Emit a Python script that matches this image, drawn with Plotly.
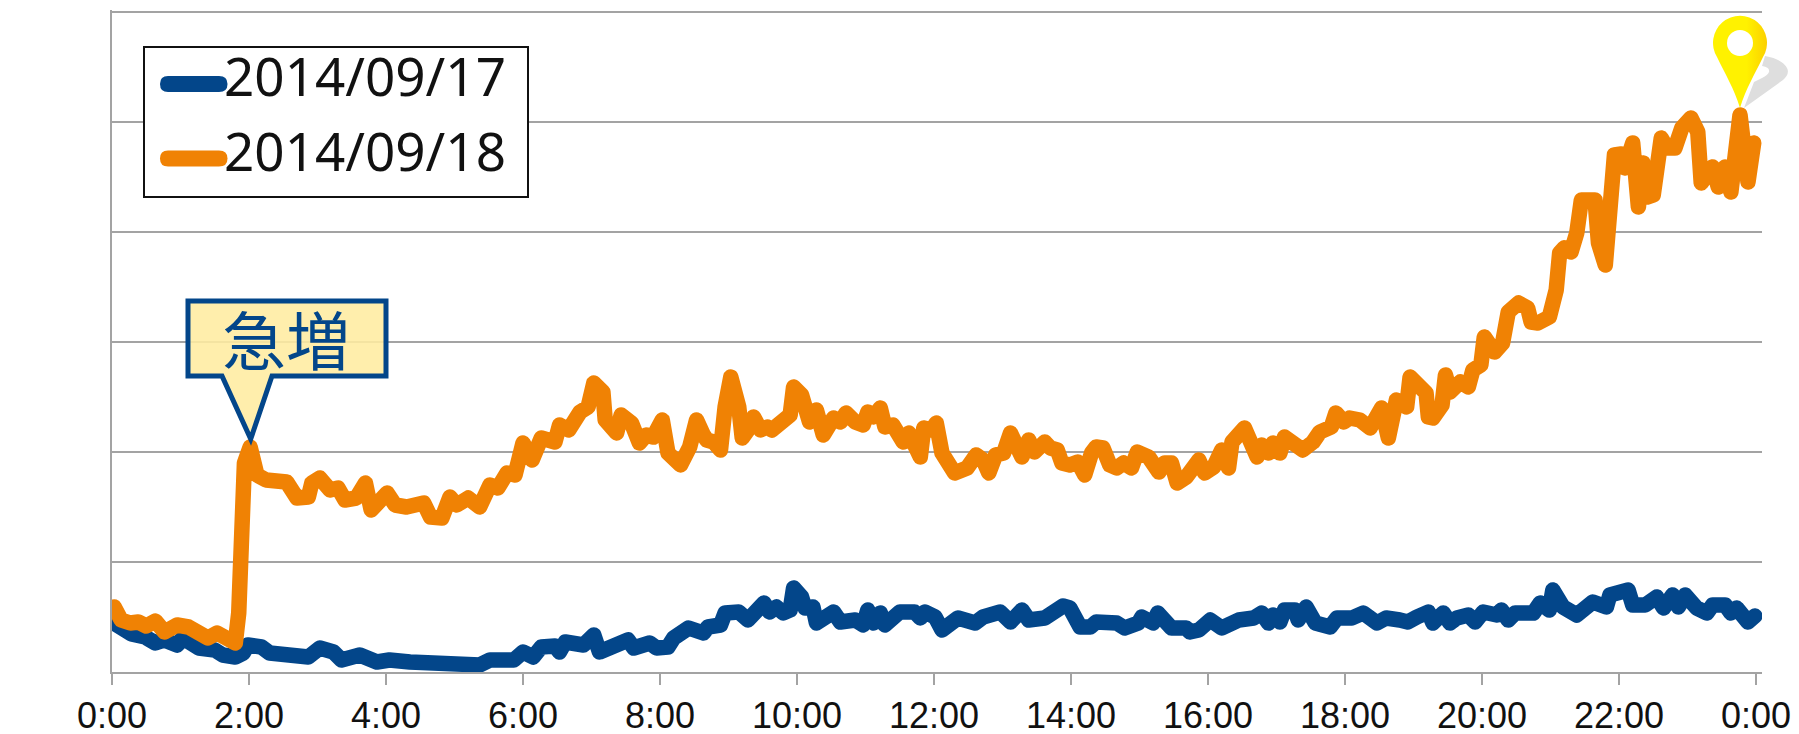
import base64
import plotly.graph_objects as go

# Query volume sampled through the day; time in minutes after midnight.
time_0917 = [0,10,17,29,38,46,57,62,76,90,97,108,115,119,131,138,153,166,172,182,194,201,211,217,232,243,261,273,281,299,311,317,322,331,352,360,369,376,388,392,397,
             413,422,427,436,442,452,457,471,477,487,492,505,518,522,533,537,549,557,571,576,582,588,594,597,604,607,614,617,632,638,651,658,662,667,673,677,690,703,708,712,721,727,741,749,756,763,778,787,797,803,817,
             833,839,848,857,862,880,887,899,902,912,916,928,941,944,952,962,972,987,1000,1007,1013,1017,1023,1027,1036,1039,1046,1054,1067,1073,1086,1096,1108,1116,
             1128,1135,1143,1153,1157,1166,1172,1178,1188,1194,1201,1213,1217,1223,1229,1245,1251,1259,1262,1271,1283,1297,1309,1312,1328,1332,1343,1353,1359,1367,1372,1378,1388,1397,1402,1413,1418,1423,1433,1439]
count_0917 = [50,40,38,35,29,32,27,34,24,22,17,15,19,27,25,19,17,17,15,24,20,12,14,17,10,12,10,10,7,9,9,10,7,12,12,20,15,25,26,20,30,
              27,37,20,24,29,32,24,29,24,25,34,44,39,45,47,59,60,52,69,60,65,59,62,84,75,64,65,49,60,50,52,47,62,49,59,47,60,60,54,60,55,42,54,49,49,55,60,50,62,52,54,
              66,64,45,45,50,49,44,49,55,49,59,44,44,40,42,52,44,52,54,59,49,57,50,62,62,52,65,49,45,54,54,59,49,54,
              52,50,55,60,49,59,49,54,57,50,60,57,62,52,59,59,69,62,82,65,57,70,65,77,82,67,67,75,64,77,65,77,64,59,67,67,59,64,50,56]

time_0918 = [2,8,16,23,30,38,46,57,67,74,84,92,100,108,111,114,116,121,127,135,144,153,162,172,175,182,191,198,204,214,222,227,241,248,258,273,279,289,296,302,312,322,331,338,346,353,360,368,376,388,392,400,
             410,417,422,430,432,438,442,446,455,462,468,474,482,487,498,506,512,518,521,527,533,537,542,549,552,557,562,568,574,578,585,594,597,604,611,617,623,632,638,643,651,658,662,667,673,677,684,689,693,698,702,708,711,718,722,727,738,749,757,763,768,774,781,787,797,803,808,817,822,
             828,832,839,846,852,858,862,868,874,880,886,893,898,908,917,922,928,933,941,952,957,965,972,978,981,992,1003,1007,1013,1017,1023,1027,1036,1043,1052,1058,1068,1072,1079,1084,1093,1102,1112,1118,1125,1134,
             1137,1151,1153,1157,1165,1168,1172,1181,1188,1192,1199,1202,1211,1218,1223,1232,1240,1243,1249,1259,1265,1268,1272,1278,1283,1287,1299,1302,1308,1312,1316,1322,1325,1332,1337,1341,1345,1350,1357,1362,1369,1375,1383,1389,1392,1402,1407,1413,1418,1426,1433,1438]
count_0918 = [65,52,49,50,46,51,40,47,45,39,34,39,36,29,59,125,209,225,197,192,189,190,174,175,189,194,182,184,172,174,189,162,179,167,165,169,155,154,175,167,174,165,187,184,199,197,229,212,234,230,247,242,
              260,265,289,280,252,247,239,257,249,229,237,235,252,219,207,225,252,237,232,230,222,265,295,265,234,242,255,242,245,242,247,257,285,277,250,262,237,254,250,259,250,247,260,255,264,245,247,232,230,239,227,215,244,242,249,219,199,204,217,212,199,217,219,239,215,232,220,230,224,
              222,209,207,210,197,219,225,224,207,204,209,204,220,215,200,209,209,189,195,212,199,205,222,204,230,244,215,227,219,229,219,235,230,222,230,240,245,259,250,254,252,244,264,234,272,265,
              295,279,255,254,267,297,280,290,285,302,307,335,320,329,360,369,364,350,349,355,382,419,424,420,439,472,472,429,407,482,517,518,504,529,465,509,475,477,534,524,524,544,554,540,489,505,485,505,480,557,490,529]

tick_minutes = list(range(0, 1441, 120))
tick_labels = ["0:00","2:00","4:00","6:00","8:00","10:00","12:00","14:00","16:00","18:00","20:00","22:00","0:00"]
series_names = ["2014/09/17", "2014/09/18"]
axis_title = "クエリ数"
callout_text = "急増"

BLUE = "#03468A"
ORANGE = "#F08204"
GRID = "#A3A3A3"
W, H = 1799, 734
# Plot rectangle in page pixels; the value axis runs slightly past its top gridline.
LEFT, RIGHT, TOP, BOTTOM = 112, 1762, 10, 672


def px(x):
    return (x - LEFT) / (RIGHT - LEFT)


def py(y):
    return (BOTTOM - y) / (BOTTOM - TOP)


def path(*items):
    # Builds an SVG path in paper coordinates from (command, x, y, ...) tuples.
    out = []
    for item in items:
        cmd, coords = item[0], item[1:]
        pairs = [f"{px(coords[i]):.5f},{py(coords[i + 1]):.5f}" for i in range(0, len(coords), 2)]
        out.append(cmd + " ".join(pairs))
    return " ".join(out) + " Z"


fig = go.Figure()
fig.add_trace(go.Scatter(x=time_0917, y=count_0917, mode="lines", name=series_names[0],
                         line=dict(color=BLUE, width=15.5), cliponaxis=False, showlegend=False))
fig.add_trace(go.Scatter(x=time_0918, y=count_0918, mode="lines", name=series_names[1],
                         line=dict(color=ORANGE, width=15.5), cliponaxis=False, showlegend=False))

shapes = []
annotations = []


def paper_shape(**kw):
    shapes.append(dict(type="path", xref="paper", yref="paper", layer="above", **kw))


# Legend box with rounded swatches
shapes.append(dict(type="rect", xref="paper", yref="paper", layer="above",
                   x0=px(144), x1=px(528), y0=py(47), y1=py(197),
                   fillcolor="white", line=dict(color="#111111", width=2)))
for name, color, y_swatch, y_text in [(series_names[0], BLUE, 84, 75), (series_names[1], ORANGE, 158.5, 150)]:
    r = 8
    paper_shape(path=path(("M", 168, y_swatch - r), ("L", 219, y_swatch - r),
                          ("Q", 227.5, y_swatch - r, 227.5, y_swatch), ("Q", 227.5, y_swatch + r, 219, y_swatch + r),
                          ("L", 168, y_swatch + r), ("Q", 160, y_swatch + r, 160, y_swatch),
                          ("Q", 160, y_swatch - r, 168, y_swatch - r)),
                fillcolor=color, line=dict(width=0))
    annotations.append(dict(text=name, xref="paper", yref="paper", x=px(222), y=py(y_text), xanchor="left",
                            yanchor="middle", showarrow=False, font=dict(family="Noto Sans", size=53, color="#111111")))

# Callout pointing at the 2:00 jump
paper_shape(path=path(("M", 188, 301), ("L", 386, 301), ("L", 386, 376), ("L", 272, 376), ("L", 250.7, 439),
                      ("L", 222, 376), ("L", 188, 376)),
            fillcolor="rgba(255,236,160,0.88)", line=dict(color=BLUE, width=5))
annotations.append(dict(text=callout_text, xref="paper", yref="paper", x=px(286), y=py(337), xanchor="center",
                        yanchor="middle", showarrow=False,
                        font=dict(family="Noto Sans CJK JP", size=64, color=BLUE)))

# Vertical axis title; the script below switches it to vertical writing
annotations.append(dict(text=axis_title, xref="paper", yref="paper", x=px(36), y=py(340), xanchor="center",
                        yanchor="middle", showarrow=False,
                        font=dict(family="Noto Sans CJK JP", size=48, color="#111111")))

# Map pin marking the late peak, with its cast shadow
pin_svg = """<svg xmlns="http://www.w3.org/2000/svg" width="100" height="110" viewBox="1700 8 100 110">
<defs><linearGradient id="g" x1="0" x2="1" y1="0" y2="0">
<stop offset="0" stop-color="#FFF200"/><stop offset="0.62" stop-color="#FFF200"/><stop offset="1" stop-color="#FCD000"/>
</linearGradient></defs>
<path d="M1744 108 L1783 80 Q1790 74 1787 68 Q1782 59 1765 56 L1762 66 Q1770 67 1769 72 Q1768 75 1762 78 L1754 82 Z" fill="#DEDEDE"/>
<path d="M1740 108 C1734 88 1725 74 1717 57 A27 27 0 1 1 1763 57 C1755 74 1746 88 1740 108 Z" fill="url(#g)"/>
<circle cx="1740" cy="43" r="13" fill="white"/></svg>"""
pin_uri = "data:image/svg+xml;base64," + base64.b64encode(pin_svg.encode()).decode()

fig.update_layout(
    width=W, height=H, autosize=False,
    margin=dict(l=LEFT, r=W - RIGHT, t=TOP, b=H - BOTTOM, pad=0, autoexpand=False),
    paper_bgcolor="white", plot_bgcolor="white",
    showlegend=False,
    shapes=shapes, annotations=annotations,
    images=[dict(source=pin_uri, xref="paper", yref="paper", x=px(1700), y=py(8), sizex=100 / (RIGHT - LEFT),
                 sizey=110 / (BOTTOM - TOP), xanchor="left", yanchor="top", layer="above", sizing="stretch")],
    xaxis=dict(range=[0, 1445.25], tickmode="array", tickvals=tick_minutes, ticktext=tick_labels,
               ticks="outside", ticklen=11, tickwidth=2, tickcolor=GRID, showgrid=False,
               showline=True, linecolor=GRID, linewidth=2, zeroline=False, automargin=False,
               tickfont=dict(family="Liberation Sans", size=36, color="#111111")),
    yaxis=dict(range=[0, 662], tick0=0, dtick=110, showticklabels=False, ticks="", showgrid=True,
               gridcolor=GRID, gridwidth=2, zeroline=False, showline=True, linecolor=GRID, linewidth=2,
               automargin=False),
)

# Round the joins of the thick series lines and set the axis title vertically
finish = """
document.querySelectorAll('.scatterlayer .lines path').forEach(function (p) {
    p.style.strokeLinejoin = 'round';
    p.style.strokeLinecap = 'round';
});
document.querySelectorAll('.annotation-text').forEach(function (t) {
    if (t.textContent === '%s') {
        t.style.writingMode = 'vertical-rl';
        t.setAttribute('y', %d);
        t.setAttribute('x', %d);
    }
});
""" % (axis_title, 0, 0)
fig.write_html("out.html", post_script=finish, config=dict(displayModeBar=False))
